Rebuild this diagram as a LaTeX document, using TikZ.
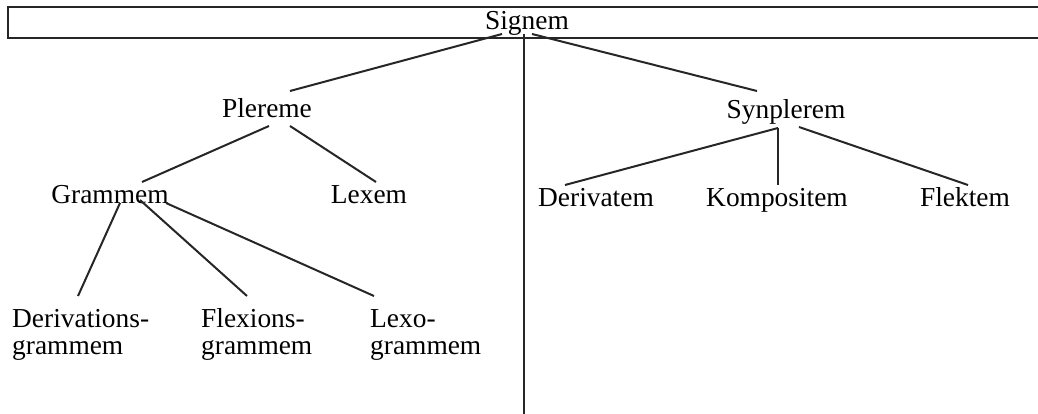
\documentclass[tikz,border=0pt]{standalone}
\usepackage{fontspec}
\setmainfont{Liberation Serif}
\usetikzlibrary{calc}
\begin{document}
\begin{tikzpicture}[x=1pt,y=-1pt,
  lbl/.style={inner sep=0pt,anchor=base,font=\fontsize{27.4}{27}\selectfont},
  lbl2/.style={lbl,anchor=base west,align=left},
  edge/.style={draw=black!85,line width=2pt},
  frame/.style={draw=black!85,line width=2pt,inner sep=0pt,anchor=north west,
    minimum width=1045pt,minimum height=31pt}]
  \useasboundingbox (0,0) rectangle (1038,414);

  % root frame running across the full width
  \node[frame] (rootbox) at (6.5,6) {};
  \node[lbl] (signem) at (527,30) {Signem};

  % second level
  \node[lbl] (plereme) at (267,118) {Plereme};
  \node[lbl] (synplerem) at (786,119) {Synplerem};

  % third level
  \node[lbl] (grammem) at (110,204) {Grammem};
  \node[lbl] (lexem) at (369,204) {Lexem};
  \node[lbl] (derivatem) at (596,206) {Derivatem};
  \node[lbl] (kompositem) at (777,206) {Kompositem};
  \node[lbl] (flektem) at (965,206) {Flektem};

  % fourth level (anchored at the baseline of the second line)
  \node[lbl2] (derivg) at (12,354) {Derivations-\\grammem};
  \node[lbl2] (flexg) at (201,354) {Flexions-\\grammem};
  \node[lbl2] (lexog) at (370,354) {Lexo-\\grammem};

  % free end of the central divider
  \coordinate (stem) at (524,414);

  % connectors
  \draw[edge] ($(signem.base)+(-25,4)$) -- ($(plereme.base)+(23,-27)$);
  \draw[edge] ($(signem.base)+(5,4)$) -- ($(synplerem.base)+(-29,-28)$);
  \draw[edge] ($(signem.base)+(-3,4)$) -- (stem);

  \draw[edge] ($(plereme.base)+(2,8)$) -- ($(grammem.base)+(32,-22)$);
  \draw[edge] ($(plereme.base)+(23,8)$) -- ($(lexem.base)+(7,-22)$);

  \draw[edge] ($(synplerem.base)+(-8,9)$) -- ($(derivatem.base)+(-31,-21)$);
  \draw[edge] ($(synplerem.base)+(-8,9)$) -- ($(kompositem.base)+(1,-21)$);
  \draw[edge] ($(synplerem.base)+(13,8)$) -- ($(flektem.base)+(3,-21)$);

  \draw[edge] ($(grammem.base)+(10,-1)$) -- ($(derivg.base west)+(66,-58)$);
  \draw[edge] ($(grammem.base)+(30,-4)$) -- ($(flexg.base west)+(46,-58)$);
  \draw[edge] ($(grammem.base)+(56,-1)$) -- ($(lexog.base west)+(4,-58)$);
\end{tikzpicture}
\end{document}
